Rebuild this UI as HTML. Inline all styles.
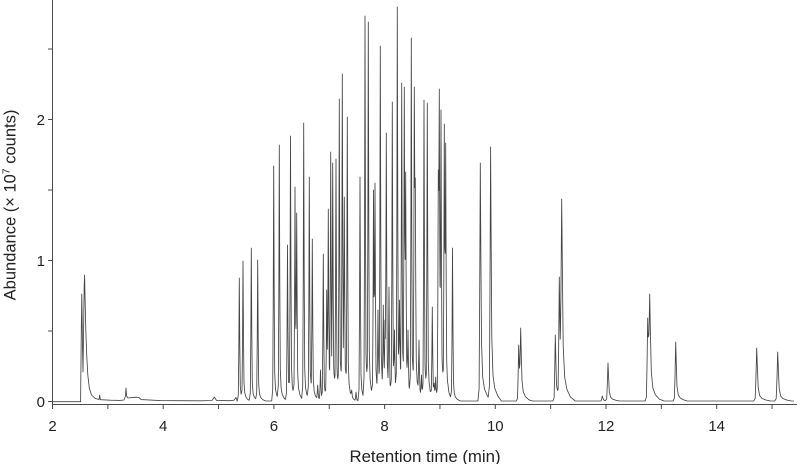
<!DOCTYPE html>
<html><head><meta charset="utf-8">
<style>
html,body{margin:0;padding:0;background:#fff;}
svg{display:block;}
.pk{fill:none;stroke:#444;stroke-width:0.85;stroke-linejoin:round;}
.ax{stroke:#4a4a4a;stroke-width:1;fill:none;}
text{font-family:"Liberation Sans",sans-serif;fill:#222;}
</style></head>
<body>
<svg id="c" width="800" height="464" viewBox="0 0 800 464" xmlns="http://www.w3.org/2000/svg">
<path class="ax" d="M52.5,0 V404.5 H797"/>
<path class="ax" d="M48,401.5H52.5M48,331H52.5M48,260.5H52.5M48,190H52.5M48,119.5H52.5M48,49H52.5"/>
<path class="ax" d="M52.5,404.5V409M107.85,404.5V409M163.2,404.5V409M218.55,404.5V409M273.9,404.5V409M329.25,404.5V409M384.6,404.5V409M439.95,404.5V409M495.3,404.5V409M550.65,404.5V409M606,404.5V409M661.35,404.5V409M716.7,404.5V409M772.05,404.5V409"/>
<g font-size="15" text-anchor="middle">
<text x="52.5" y="431">2</text><text x="163.2" y="431">4</text><text x="273.9" y="431">6</text><text x="384.6" y="431">8</text><text x="495.3" y="431">10</text><text x="606" y="431">12</text><text x="716.7" y="431">14</text>
</g>
<g font-size="15" text-anchor="end">
<text x="45" y="407">0</text><text x="45" y="266">1</text><text x="45" y="125">2</text>
</g>
<text x="425" y="462" font-size="16.8" text-anchor="middle">Retention time (min)</text>
<text transform="translate(15.5,205) rotate(-90)" font-size="16.5" text-anchor="middle">Abundance (× 10<tspan font-size="10.5" dy="-6">7</tspan><tspan dy="6"> counts)</tspan></text>
<path class="pk" d="M52.5,401.7 L80.6,401.7 L80.8,380 L81.3,330 L81.8,294 L82.4,340 L83,372 L83.6,330 L84.2,285 L84.6,275 L85.1,300 L85.8,330 L86.7,355 L87.8,375 L89.3,388 L91.5,395 L95,398.3 L99,399.5 L99.7,395 L100.3,399.7 L110,400.2 L120,400.4 L124,400 L125.5,396 L126,388 L126.6,396 L128,398 L132,397.6 L136,397.2 L139,397.6 L141,399.6 L160,400.6 L200,400.8 L212,400.5 L214.3,397 L216.5,400.4 L230,400.7 L234,400.2 L236,397.5 L237,400.6"/>
<path id="tr" class="pk" d="M237,400.6 L794,401"/>
</svg>
<script>
(function(){
var A=[[-2,0],[-1,.05],[-.5,.4],[0,1],[.5,.45],[1,.12],[1.8,.05],[3,.025],[5,.01],[8,0]];
var B=[[-2,0],[-1,.05],[-.5,.45],[0,1],[.5,.6],[1,.25],[2,.1],[3.5,.05],[6,.02],[9,0]];
var pa=[[239.3,278],[243,261],[251.3,248],[257.7,260],[273.7,166],[279.3,145],[287.5,245],[290.5,136],[295,187],[296.7,213],[303.7,123],[309.3,177],[312.3,239],[317.7,385],[320.5,370],[323.3,254],[326.7,290],[328.3,209],[330.7,152],[332.7,163],[336,159],[339.3,99],[342.3,74],[344.3,197],[347.3,117],[351.7,390],[356,392],[360,177],[365,16],[368.3,22],[373.5,190],[375,183],[378,310],[380.3,46],[383.3,305],[385,320],[386.3,133],[389,287],[392.3,102],[394.5,330],[397.3,7],[399.5,300],[401.7,83],[404.3,87],[405.7,172],[408,330],[411.3,38],[414.3,87],[415.3,178],[419,340],[421.5,375],[424,100],[427.3,103],[429.5,385],[432.3,307],[434.2,383],[435.7,377],[438.3,170],[439.3,89],[441,110],[444.3,124],[445.7,143],[448,387],[452.5,248]];
var pb=[[480.3,163,1.2],[490.6,147,1.2],[518.7,345,1.2],[520.7,328,1.3],[555.3,335,1.2],[559.3,277,1.2],[561.7,199,1.5],[602.3,396,1.2],[608,363,1.3],[647.7,318,1.3],[649.7,294,1.6],[675.7,342,1.3],[756.7,348,1.5],[777.7,352,1.5]];
var P=[],i,j,it;
for(i=0;i<pa.length;i++)P.push([pa[i][0],401-pa[i][1],A,1,401-pa[i][1]]);
for(i=0;i<pb.length;i++)P.push([pb[i][0],401-pb[i][1],B,pb[i][2],401-pb[i][1]]);
function ev(s,d){
  if(d<=s[0][0]||d>=s[s.length-1][0])return 0;
  for(var k=1;k<s.length;k++){if(d<=s[k][0]){var t=(d-s[k-1][0])/(s[k][0]-s[k-1][0]);return s[k-1][1]+t*(s[k][1]-s[k-1][1]);}}
  return 0;
}
function sig(X){var y=0;for(var q=0;q<P.length;q++){var dd=(X-P[q][0])/P[q][3];if(dd>-2&&dd<9)y+=P[q][1]*ev(P[q][2],dd);}return y;}
for(it=0;it<12;it++){
  var cur=[];
  for(i=0;i<P.length;i++)cur.push(sig(P[i][0]));
  for(i=0;i<P.length;i++){P[i][1]+=0.7*(P[i][4]-cur[i]);if(P[i][1]<1)P[i][1]=1;}
}
var xs=[];
for(var x=237;x<=794;x+=0.5)xs.push(x);
for(i=0;i<P.length;i++){var s=P[i][2];for(j=0;j<s.length;j++)xs.push(P[i][0]+s[j][0]*P[i][3]);}
xs.sort(function(a,b){return a-b;});
var d="M237,400.6",last=-1;
for(i=0;i<xs.length;i++){
  var X=xs[i];if(X<237||X>794||X-last<0.02)continue;last=X;
  d+=" L"+X.toFixed(2)+","+(401-sig(X)).toFixed(2);
}
document.getElementById("tr").setAttribute("d",d);
})();
</script>
</body></html>
